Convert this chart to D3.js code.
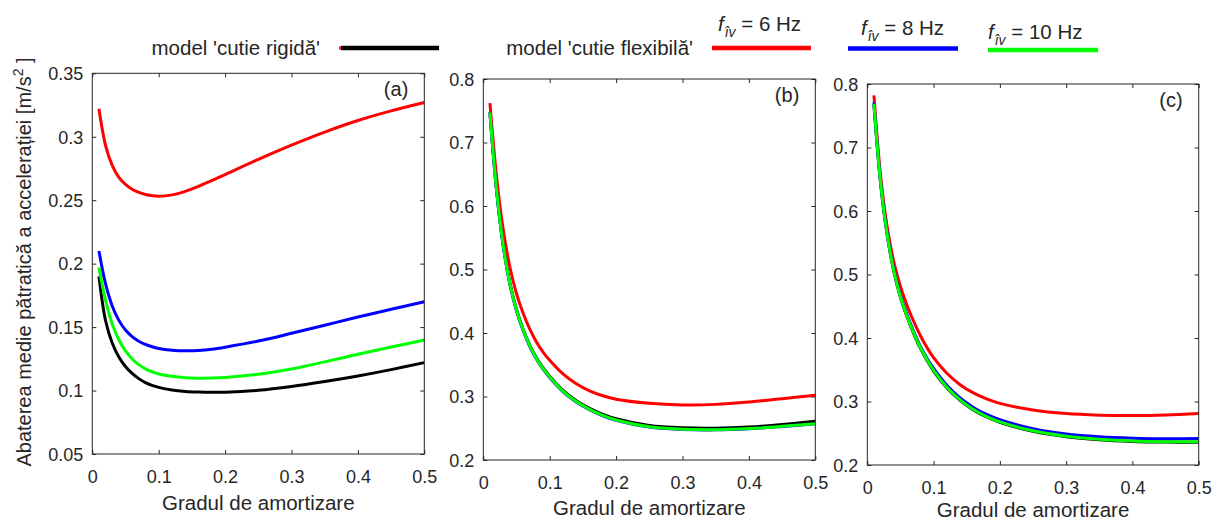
<!DOCTYPE html>
<html>
<head>
<meta charset="utf-8">
<script src="https://cdn.jsdelivr.net/npm/d3@7"></script>
<style>
  html, body { margin: 0; padding: 0; background: #fff; }
  svg { display: block; font-family: "Liberation Sans", Arial, sans-serif; }
</style>
</head>
<body>
<svg id="chart" width="1220" height="523"></svg>
<script>
// Damping ratio (x axis, shared by all panels)
const dampingRatio = [0.01,0.02,0.03,0.04,0.05,0.06,0.07,0.08,0.09,0.10,0.12,0.14,0.16,0.18,0.20,0.25,0.30,0.35,0.40,0.45,0.50];
const xTicks = [0, 0.1, 0.2, 0.3, 0.4, 0.5];

// Panel (a): RMS acceleration [m/s^2]
const rigidA  = [0.190,0.1550,0.1375,0.1265,0.1190,0.1135,0.1094,0.1063,0.1041,0.1025,0.1004,0.0993,0.0988,0.0986,0.0987,0.1002,0.1032,0.1071,0.1115,0.1165,0.1220];
const flex6A  = [0.322,0.2930,0.2775,0.2680,0.2624,0.2586,0.2561,0.2545,0.2536,0.2532,0.2542,0.2570,0.2609,0.2654,0.2702,0.2822,0.2934,0.3037,0.3128,0.3204,0.3270];
const flex8A  = [0.210,0.1840,0.1667,0.1553,0.1477,0.1425,0.1389,0.1363,0.1345,0.1332,0.1318,0.1313,0.1316,0.1326,0.1342,0.1390,0.1451,0.1515,0.1579,0.1640,0.1700];
const flex10A = [0.197,0.1710,0.1525,0.1400,0.1312,0.1249,0.1204,0.1171,0.1147,0.1131,0.1112,0.1101,0.1097,0.1098,0.1103,0.1128,0.1170,0.1226,0.1286,0.1343,0.1398];
const yTicksA = [0.05, 0.1, 0.15, 0.2, 0.25, 0.3, 0.35];

// Panel (b)
const rigidB  = [0.748,0.626,0.539,0.479,0.437,0.406,0.381,0.361,0.345,0.332,0.3097,0.2934,0.2813,0.2720,0.2650,0.2544,0.2506,0.2500,0.2519,0.2560,0.2612];
const flex6B  = [0.762,0.646,0.563,0.504,0.462,0.431,0.406,0.386,0.370,0.357,0.3355,0.3200,0.3090,0.3012,0.2957,0.2893,0.2868,0.2876,0.2913,0.2965,0.3020];
const flex8B  = [0.746,0.624,0.537,0.477,0.435,0.404,0.379,0.359,0.343,0.330,0.3077,0.2913,0.2791,0.2697,0.2625,0.2518,0.2482,0.2475,0.2492,0.2527,0.2569];
const flex10B = [0.747,0.625,0.538,0.478,0.436,0.405,0.380,0.360,0.344,0.331,0.3085,0.2920,0.2797,0.2702,0.2630,0.2522,0.2485,0.2478,0.2495,0.2530,0.2572];

// Panel (c)
const rigidC  = [0.768,0.644,0.562,0.505,0.464,0.433,0.407,0.384,0.365,0.348,0.3218,0.3018,0.2868,0.2756,0.2673,0.2531,0.2446,0.2398,0.2372,0.2361,0.2359];
const flex6C  = [0.782,0.656,0.575,0.520,0.481,0.451,0.426,0.404,0.385,0.369,0.3445,0.3265,0.3135,0.3040,0.2970,0.2866,0.2810,0.2785,0.2778,0.2787,0.2812];
const flex8C  = [0.771,0.647,0.565,0.508,0.467,0.436,0.410,0.387,0.368,0.352,0.3255,0.3055,0.2907,0.2797,0.2715,0.2572,0.2488,0.2444,0.2422,0.2415,0.2418];
const flex10C = [0.769,0.645,0.563,0.506,0.465,0.434,0.408,0.385,0.366,0.349,0.3225,0.3025,0.2875,0.2763,0.2680,0.2538,0.2453,0.2405,0.2379,0.2368,0.2366];
const yTicksBC = [0.2, 0.3, 0.4, 0.5, 0.6, 0.7, 0.8];

const seriesColors = { rigid: "#000000", f6: "#ff0000", f8: "#0000ff", f10: "#00ff00" };
const xTitle = "Gradul de amortizare";

const panels = [
  { tag: "(a)", box: { l: 92.3, r: 424.3, t: 73.3, b: 454 }, titleY: 510, yDomain: [0.05, 0.35], yTicks: yTicksA,
    series: [["rigid", rigidA], ["f6", flex6A], ["f8", flex8A], ["f10", flex10A]] },
  { tag: "(b)", box: { l: 483.3, r: 815.3, t: 79, b: 460 }, titleY: 515, yDomain: [0.2, 0.8], yTicks: yTicksBC,
    series: [["rigid", rigidB], ["f6", flex6B], ["f8", flex8B], ["f10", flex10B]] },
  { tag: "(c)", box: { l: 867.3, r: 1198.7, t: 84, b: 465 }, titleY: 517, yDomain: [0.2, 0.8], yTicks: yTicksBC,
    series: [["rigid", rigidC], ["f6", flex6C], ["f8", flex8C], ["f10", flex10C]] }
];

const svg = d3.select("#chart");
const ink = "#262626";
const fmt = d => String(+d.toFixed(2));

panels.forEach(p => {
  const { l, r, t, b } = p.box;
  const x = d3.scaleLinear().domain([0, 0.5]).range([l, r]);
  const y = d3.scaleLinear().domain(p.yDomain).range([b, t]);
  const g = svg.append("g");

  // axes with inward ticks on all four sides
  const tickLen = 4;
  g.append("g").attr("transform", `translate(0,${b})`)
    .call(d3.axisBottom(x).tickValues(xTicks).tickSizeInner(-tickLen).tickSizeOuter(0).tickFormat(fmt))
    .call(a => { a.select(".domain").remove(); a.selectAll("line").attr("stroke", ink);
      a.selectAll("text").attr("fill", ink).attr("font-size", 18).attr("dy", 0).attr("y", 29); });
  g.append("g").attr("transform", `translate(0,${t})`)
    .call(d3.axisTop(x).tickValues(xTicks).tickSizeInner(-tickLen).tickSizeOuter(0).tickFormat(""))
    .call(a => { a.select(".domain").remove(); a.selectAll("line").attr("stroke", ink); });
  g.append("g").attr("transform", `translate(${l},0)`)
    .call(d3.axisLeft(y).tickValues(p.yTicks).tickSizeInner(-tickLen).tickSizeOuter(0).tickFormat(fmt))
    .call(a => { a.select(".domain").remove(); a.selectAll("line").attr("stroke", ink);
      a.selectAll("text").attr("fill", ink).attr("font-size", 18).attr("x", -9).attr("dy", "0.35em"); });
  g.append("g").attr("transform", `translate(${r},0)`)
    .call(d3.axisRight(y).tickValues(p.yTicks).tickSizeInner(-tickLen).tickSizeOuter(0).tickFormat(""))
    .call(a => { a.select(".domain").remove(); a.selectAll("line").attr("stroke", ink); });

  // curves
  const line = d3.line().x((d, i) => x(dampingRatio[i])).y(d => y(d)).curve(d3.curveCatmullRom.alpha(0.5));
  p.series.forEach(([key, vals]) => {
    g.append("path").datum(vals).attr("d", line)
      .attr("fill", "none").attr("stroke", seriesColors[key])
      .attr("stroke-width", 3).attr("stroke-linejoin", "round");
  });

  // frame
  g.append("rect").attr("x", l).attr("y", t).attr("width", r - l).attr("height", b - t)
    .attr("fill", "none").attr("stroke", ink).attr("stroke-width", 1);

  // panel tag
  g.append("text").attr("x", r - 16).attr("y", t + 23).attr("text-anchor", "end")
    .attr("font-size", 20).attr("fill", ink).text(p.tag);

  // x title
  g.append("text").attr("x", (l + r) / 2).attr("y", p.titleY).attr("text-anchor", "middle")
    .attr("font-size", 20.5).attr("fill", ink).text(xTitle);
});

// y title
const yt = svg.append("text").attr("transform", "translate(31,262) rotate(-90)")
  .attr("text-anchor", "middle").attr("font-size", 20).attr("fill", ink);
yt.append("tspan").text("Abaterea medie pătratică a accelerației [m/s");
yt.append("tspan").attr("font-size", 14).attr("dy", -8).text("2");
yt.append("tspan").attr("dy", 8).text(" ]");

// legend
const legend = svg.append("g").attr("font-size", 20.5).attr("fill", ink);
legend.append("text").attr("x", 320).attr("y", 55).attr("text-anchor", "end").text("model 'cutie rigidă'");
legend.append("line").attr("x1", 339).attr("x2", 345).attr("y1", 48).attr("y2", 48)
  .attr("stroke", seriesColors.f6).attr("stroke-width", 3);
legend.append("line").attr("x1", 341).attr("x2", 439).attr("y1", 48).attr("y2", 48)
  .attr("stroke", seriesColors.rigid).attr("stroke-width", 4.5);
legend.append("text").attr("x", 693).attr("y", 55).attr("text-anchor", "end").text("model 'cutie flexibilă'");

const freqEntries = [
  { key: "f6",  hz: "6",  tx: 718, ty: 31, x1: 712, x2: 811, ly: 48 },
  { key: "f8",  hz: "8",  tx: 861, ty: 35, x1: 848, x2: 958, ly: 48.5 },
  { key: "f10", hz: "10", tx: 988, ty: 39, x1: 988, x2: 1098, ly: 50 }
];
freqEntries.forEach(e => {
  const t = legend.append("text").attr("x", e.tx).attr("y", e.ty);
  t.append("tspan").attr("font-style", "italic").text("f");
  t.append("tspan").attr("font-style", "italic").attr("font-size", 14).attr("dy", 6).attr("dx", 1).text("îv");
  t.append("tspan").attr("dy", -6).text(` = ${e.hz} Hz`);
  legend.append("line").attr("x1", e.x1).attr("x2", e.x2).attr("y1", e.ly).attr("y2", e.ly)
    .attr("stroke", seriesColors[e.key]).attr("stroke-width", 4.5);
});
</script>
</body>
</html>
